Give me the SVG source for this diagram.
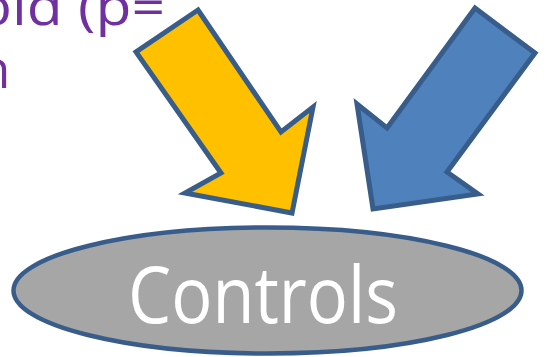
<svg xmlns="http://www.w3.org/2000/svg" width="553" height="357" viewBox="0 0 553 357">
<style>
.lbl{font-family:"Open Sans","Liberation Sans",sans-serif;fill:#7030A0;font-size:51px}
.arrow{stroke:#385D8A;stroke-width:5;stroke-linejoin:miter;stroke-miterlimit:10}
.node{fill:#A6A6A6;stroke:#385D8A;stroke-width:4.5}
.ntext{font-family:"Open Sans","Liberation Sans",sans-serif;fill:#FFFFFF;font-size:79px}
</style>
<rect width="553" height="357" fill="#FFFFFF"/>
<g id="label">
<text class="lbl" x="-24" y="25" textLength="189" lengthAdjust="spacingAndGlyphs">bid (p=</text>
<text class="lbl" x="-21" y="88">n</text>
</g>
<g id="connectors">
<polygon class="arrow" fill="#FFC000" points="198,10 136,52 221,173 185,193 292,213 313,107 281,132"/>
<polygon class="arrow" fill="#4F81BD" points="475,8 535,53 447,172 478,194 373,209 357,104 387,128"/>
</g>
<g id="controls">
<ellipse class="node" cx="267.5" cy="290.5" rx="254" ry="63"/>
<text class="ntext" x="263" y="323" text-anchor="middle" textLength="270" lengthAdjust="spacingAndGlyphs">Controls</text>
</g>
</svg>
